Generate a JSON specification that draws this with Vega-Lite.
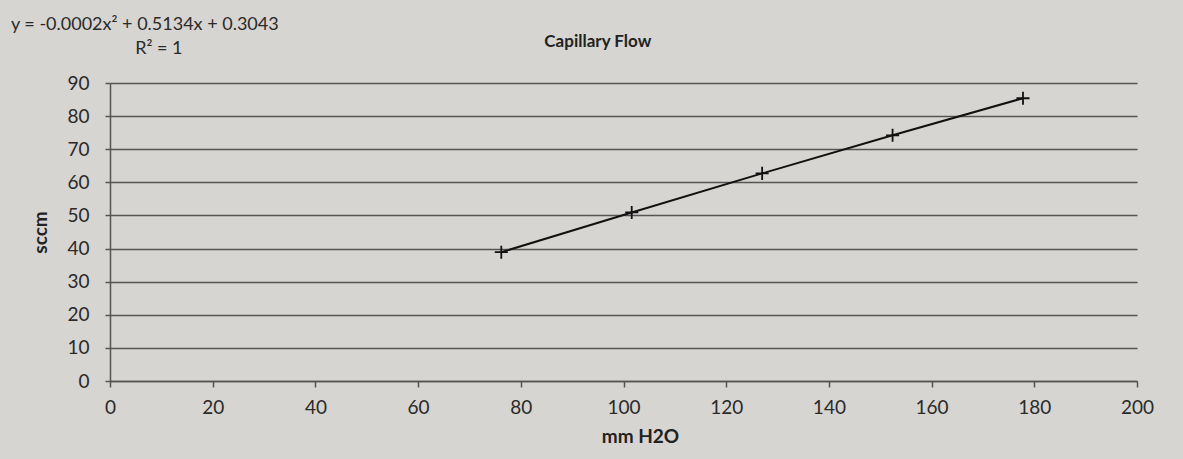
{
  "$schema": "https://vega.github.io/schema/vega-lite/v6.json",
  "width": 1027,
  "height": 298,
  "autosize": {"type": "none"},
  "padding": {"left": 110, "top": 83, "right": 46, "bottom": 78},
  "background": "#d7d5d1",
  "config": {
    "view": {"stroke": null},
    "font": "Lato"
  },
  "datasets": {
    "points": [
      {"mmH2O": 76.2, "sccm": 38.9},
      {"mmH2O": 101.6, "sccm": 50.9},
      {"mmH2O": 127.0, "sccm": 62.7},
      {"mmH2O": 152.4, "sccm": 74.2},
      {"mmH2O": 177.8, "sccm": 85.4}
    ],
    "notes": [
      {"line": 1, "label": "y = -0.0002x² + 0.5134x + 0.3043"},
      {"line": 2, "label": "R² = 1"},
      {"line": 3, "label": "Capillary Flow"}
    ]
  },
  "layer": [
    {
      "data": {"name": "points"},
      "mark": {"type": "line", "color": "#111111", "strokeWidth": 2},
      "encoding": {
        "x": {
          "field": "mmH2O",
          "type": "quantitative",
          "scale": {"domain": [0, 200], "nice": false},
          "axis": {
            "title": "mm H2O",
            "tickCount": 12,
            "labelOverlap": false,
            "grid": false,
            "domainColor": "#555555",
            "domainWidth": 1.5,
            "tickColor": "#555555",
            "tickWidth": 1.5,
            "tickSize": 6,
            "labelPadding": 11,
            "labelFontSize": 19,
            "labelColor": "#2a2a2a",
            "labelFlush": false,
            "titleFontSize": 19,
            "titleFontWeight": "bold",
            "titleColor": "#222222",
            "titlePadding": 10,
            "titleX": 530
          }
        },
        "y": {
          "field": "sccm",
          "type": "quantitative",
          "scale": {"domain": [0, 90], "nice": false},
          "axis": {
            "title": "sccm",
            "tickCount": 12,
            "labelOverlap": false,
            "grid": true,
            "gridColor": "#555555",
            "gridWidth": 1.5,
            "gridOpacity": 1,
            "domainColor": "#555555",
            "domainWidth": 1.5,
            "tickColor": "#555555",
            "tickWidth": 1.5,
            "tickSize": 5,
            "labelPadding": 16,
            "labelFontSize": 19,
            "labelColor": "#2a2a2a",
            "titleFontSize": 19,
            "titleFontWeight": "bold",
            "titleColor": "#222222",
            "titlePadding": 16
          }
        }
      }
    },
    {
      "data": {"name": "points"},
      "mark": {
        "type": "point",
        "shape": "M-1,0H1M0,-1V1",
        "filled": false,
        "stroke": "#111111",
        "strokeWidth": 1.8,
        "size": 170,
        "opacity": 1
      },
      "encoding": {
        "x": {"field": "mmH2O", "type": "quantitative"},
        "y": {"field": "sccm", "type": "quantitative"}
      }
    },
    {
      "data": {"name": "notes"},
      "transform": [{"filter": "datum.line == 1"}],
      "mark": {"type": "text", "align": "left", "baseline": "middle", "fontSize": 18, "color": "#2a2a2a", "clip": false},
      "encoding": {
        "x": {"datum": -19.3},
        "y": {"datum": 107.6},
        "text": {"field": "label"}
      }
    },
    {
      "data": {"name": "notes"},
      "transform": [{"filter": "datum.line == 2"}],
      "mark": {"type": "text", "align": "left", "baseline": "middle", "fontSize": 18, "color": "#2a2a2a", "clip": false},
      "encoding": {
        "x": {"datum": 4.9},
        "y": {"datum": 100.3},
        "text": {"field": "label"}
      }
    },
    {
      "data": {"name": "notes"},
      "transform": [{"filter": "datum.line == 3"}],
      "mark": {"type": "text", "align": "center", "baseline": "middle", "fontSize": 17, "fontWeight": "bold", "color": "#222222", "clip": false},
      "encoding": {
        "x": {"datum": 95.0},
        "y": {"datum": 102.4},
        "text": {"field": "label"}
      }
    }
  ]
}
